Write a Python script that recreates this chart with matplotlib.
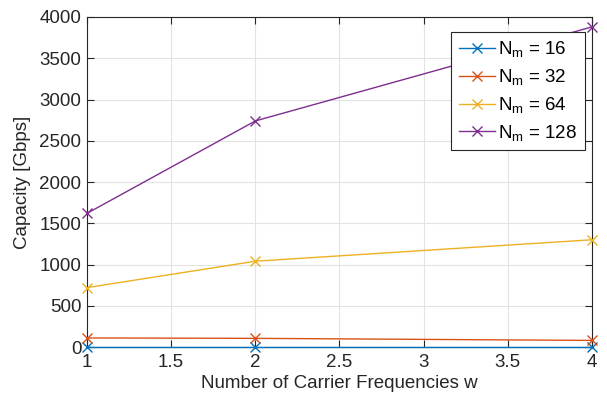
import matplotlib

matplotlib.use("Agg")

import matplotlib.pyplot as plt

w = [1, 2, 4]
cap_16 = [5, 5, 5]
cap_32 = [110, 105, 80]
cap_64 = [720, 1040, 1300]
cap_128 = [1620, 2740, 3880]
labels = ["16", "32", "64", "128"]
colors = ["#0072BD", "#D95319", "#EDB120", "#7E2F8E"]

plt.rcParams["font.family"] = ["Liberation Sans", "DejaVu Sans"]
plt.rcParams["mathtext.default"] = "regular"

fig = plt.figure(figsize=(6.07, 3.98), dpi=100)
ax = fig.add_axes([0.1433, 0.1281, 0.832, 0.8292])

for vals, lab, col in zip([cap_16, cap_32, cap_64, cap_128], labels, colors):
    ax.plot(w, vals, color=col, marker="x", markersize=7, linewidth=1.0,
            clip_on=False, zorder=3, label=r"N$_{m}$ = " + lab)

ax.set_xlim(1, 4)
ax.set_ylim(0, 4000)
ax.set_xticks([1, 1.5, 2, 2.5, 3, 3.5, 4])
ax.set_xticklabels(["1", "1.5", "2", "2.5", "3", "3.5", "4"])
ax.set_yticks(range(0, 4001, 500))
ax.grid(True, color="#e3e3e3", linewidth=0.8)
ax.set_axisbelow(True)
ax.tick_params(direction="in", top=True, right=True, labelsize=13.5,
               colors="#262626", length=5)
ax.tick_params(axis="x", pad=5)
ax.tick_params(axis="y", pad=4)
for sp in ax.spines.values():
    sp.set_color("#262626")
    sp.set_linewidth(0.8)

ax.set_xlabel("Number of Carrier Frequencies w", fontsize=13.5, color="#262626", labelpad=3)
ax.set_ylabel("Capacity [Gbps]", fontsize=13.5, color="#262626", labelpad=6)

leg = ax.legend(loc="upper right", bbox_to_anchor=(0.986, 0.955), fontsize=13.5,
                fancybox=False, framealpha=1, edgecolor="#262626",
                handlelength=1.9, handletextpad=0.2, labelspacing=0.42,
                borderpad=0.4, borderaxespad=0)
leg.get_frame().set_linewidth(0.8)

fig.savefig("out.png", dpi=100)
